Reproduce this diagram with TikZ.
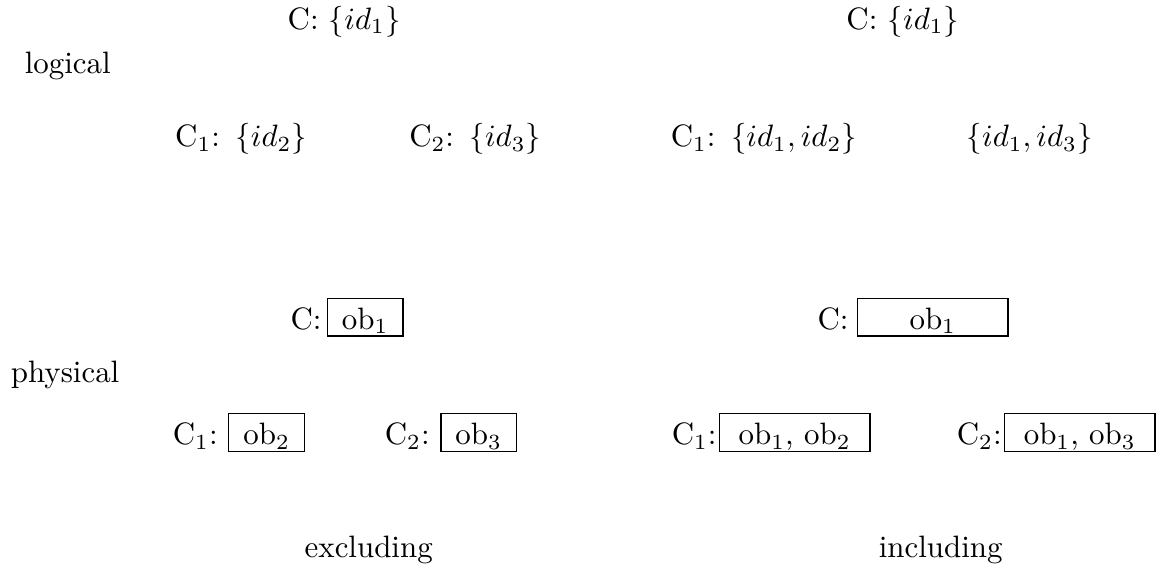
\documentclass[tikz,border=0pt]{standalone}
\usepackage{amsmath,amssymb}
\usepackage{tikz}
\usetikzlibrary{positioning}

\begin{document}
\begin{tikzpicture}[
  every node/.style={inner sep=0pt},
  lvl/.style={anchor=base},
  lbl/.style={anchor=base east},
  obox/.style={draw,anchor=base,text height=9.9pt,text depth=2.2pt,minimum width=0.86cm},
  wbox/.style={obox,minimum width=1.71cm}
]
\useasboundingbox (0,0) rectangle (13.25,-6.466);
% Level names
\node[lvl] (logical) at (0.77,-0.83) {logical};
\node[lvl] (physical) at (0.74,-4.35) {physical};
% Logical level, excluding
\node[lvl] (lC) at (3.91,-0.33) {C: $\{id_1\}$};
\node[lvl] (lC1) at (2.74,-1.67) {C$_1$:\enskip$\{id_2\}$};
\node[lvl] (lC2) at (5.40,-1.67) {C$_2$:\enskip$\{id_3\}$};
% Logical level, including
\node[lvl] (rC) at (10.26,-0.33) {C: $\{id_1\}$};
\node[lvl] (rC1) at (8.68,-1.67) {C$_1$:\enskip$\{id_1, id_2\}$};
\node[lvl] (rC2) at (11.70,-1.67) {$\{id_1, id_3\}$};
% Physical level, excluding
\node[obox] (pC) at (4.15,-3.74) {ob$_1$};
\node[obox] (pC1) at (3.03,-5.05) {ob$_2$};
\node[obox] (pC2) at (5.44,-5.05) {ob$_3$};
\node[lbl] at (3.66,-3.74) {C:};
\node[lbl] at (2.48,-5.05) {C$_1$:};
\node[lbl] at (4.89,-5.05) {C$_2$:};
% Physical level, including
\node[wbox] (qC) at (10.60,-3.74) {ob$_1$};
\node[wbox] (qC1) at (9.03,-5.05) {ob$_1$, ob$_2$};
\node[wbox] (qC2) at (12.27,-5.05) {ob$_1$, ob$_3$};
\node[lbl] at (9.65,-3.74) {C:};
\node[lbl] at (8.15,-5.05) {C$_1$:};
\node[lbl] at (11.39,-5.05) {C$_2$:};
% Column names
\node[lvl] (excl) at (4.19,-6.33) {excluding};
\node[lvl] (incl) at (10.69,-6.33) {including};
\end{tikzpicture}
\end{document}
